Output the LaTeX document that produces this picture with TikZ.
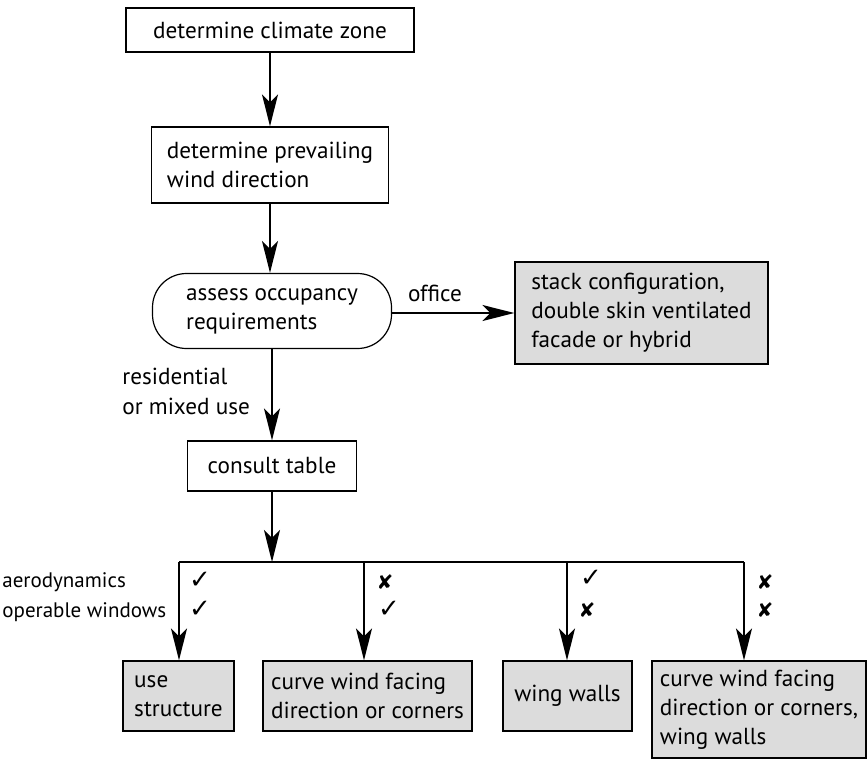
\documentclass[tikz,border=0pt]{standalone}
\usepackage{fontspec}
\setmainfont{PT Sans}
\newfontfamily\symfont{DejaVu Sans}
\usepackage{xcolor}
\usetikzlibrary{arrows.meta}
\usetikzlibrary{positioning}
\definecolor{boxgray}{RGB}{220,220,220}

\tikzset{
  box/.style={draw, line width=0.6pt, inner sep=0pt, align=left, font=\fontsize{11.6}{14.5}\selectfont},
  outcome/.style={box, fill=boxgray},
  flow/.style={-{Stealth[length=16pt,width=8pt,inset=4pt]}, line width=1pt},
  lbl/.style={font=\fontsize{11.6}{15}\selectfont, align=left, inner sep=0pt},
  crit/.style={font=\fontsize{10.5}{12}\selectfont, inner sep=0pt, anchor=west},
  yes/.style={font=\symfont\fontsize{13}{13}\selectfont, inner sep=0pt},
  no/.style={font=\symfont\bfseries\fontsize{10}{10}\selectfont, inner sep=0pt}
}

\begin{document}
\begin{tikzpicture}[x=0.5pt, y=-0.5pt]
\useasboundingbox (0,0) rectangle (867,761);

% main column
\node[box, minimum width=144pt, minimum height=22pt] (climate) at (270,30) {determine climate zone};
\node[box, minimum width=118.5pt, minimum height=38pt] (wind) at (270,165) {determine prevailing\\wind direction};
\node[box, rounded corners=17pt, minimum width=119.5pt, minimum height=37.5pt] (occupancy) at (272,311) {assess occupancy\\requirements};
\node[outcome, minimum width=126.5pt, minimum height=51pt] (stack) at (641.5,313) {stack configuration,\\double skin ventilated\\facade or hybrid};
\node[box, minimum width=84.5pt, minimum height=25pt] (consult) at (272,466) {consult table};

\draw[flow] (climate) -- (climate |- wind.north);
\draw[flow] (wind) -- (wind |- occupancy.north);
\draw[flow] (occupancy.east |- stack.west) -- (stack.west) node[pos=0.35, above=5pt, lbl]{office};
\draw[flow] (occupancy) -- (consult);
\node[lbl, anchor=north west] (use) at (122,368) {residential\\or mixed use};

% branches
\coordinate (split) at (272,562);
\coordinate (br1) at (179,562);
\coordinate (br2) at (364,562);
\coordinate (br3) at (567,562);
\coordinate (br4) at (744,562);
\draw[flow] (consult) -- (split);
\draw[line width=1pt] (br1) -- (br4);

\node[outcome, minimum width=55.5pt, minimum height=35pt] (structure) at (178.5,696) {use\\structure};
\node[outcome, minimum width=104.5pt, minimum height=35pt] (curve) at (367.5,696) {curve wind facing\\direction or corners};
\node[outcome, minimum width=64.5pt, minimum height=35pt] (wing) at (567.5,696) {wing walls};
\node[outcome, minimum width=107pt, minimum height=48.5pt] (both) at (759,709.5) {curve wind facing\\direction or corners,\\wing walls};

\draw[flow] (br1) -- (br1 |- structure.north);
\draw[flow] (br2) -- (br2 |- curve.north);
\draw[flow] (br3) -- (br3 |- wing.north);
\draw[flow] (br4) -- (br4 |- both.north);

% criteria
\node[crit] (aero) at (2,582) {aerodynamics};
\node[crit] (windows) at (2,612) {operable windows};

\node[yes] (m11) at (200,580) {✓};
\node[yes] (m12) at (200,609) {✓};
\node[no]  (m21) at (385,582) {✘};
\node[yes] (m22) at (389,609) {✓};
\node[yes] (m31) at (591,578) {✓};
\node[no]  (m32) at (587,610) {✘};
\node[no]  (m41) at (765,582) {✘};
\node[no]  (m42) at (765,610) {✘};

\end{tikzpicture}
\end{document}
